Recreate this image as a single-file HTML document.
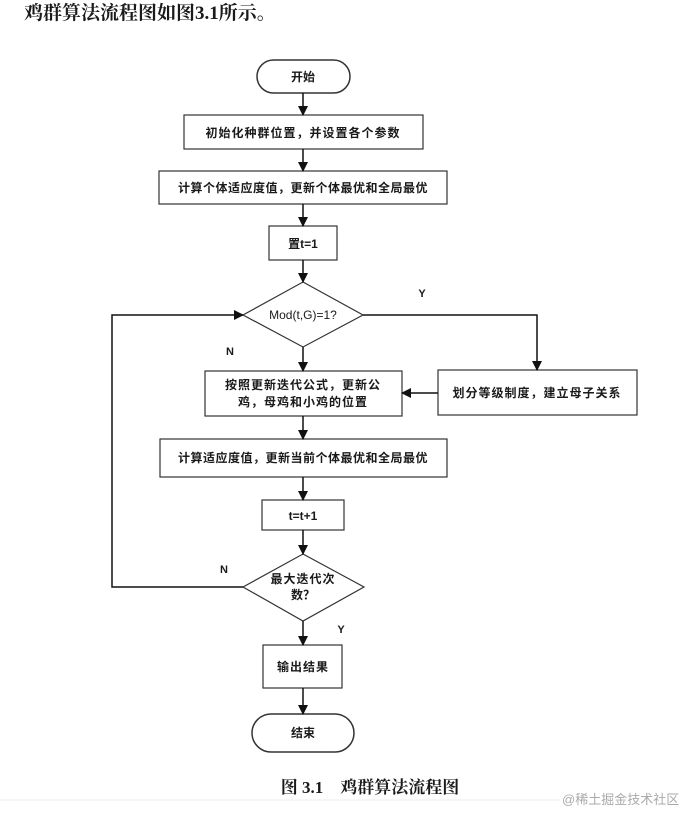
<!DOCTYPE html>
<html><head><meta charset="utf-8"><style>
body{margin:0;width:696px;height:812px;background:#fff;overflow:hidden}
svg text{font-family:"Liberation Sans","Noto Sans CJK SC",sans-serif;fill:#1a1a1a}
</style></head><body>
<svg width="696" height="812" xmlns="http://www.w3.org/2000/svg">
<defs><marker id="a" markerWidth="10" markerHeight="10" refX="9" refY="5" orient="auto" markerUnits="userSpaceOnUse"><path d="M0,0 L10,5 L0,10 Z" fill="#111"/></marker></defs>
<text x="24" y="19" font-size="19" font-weight="bold" style="font-family:'Liberation Serif','Noto Serif CJK SC',serif" fill="#111">鸡群算法流程图如图3.1所示。</text>
<g stroke="#333" stroke-width="1.2" fill="#fff">
<rect x="257" y="60" width="93" height="33" rx="16.5" stroke-width="1.5"/>
<rect x="184" y="115" width="239" height="34"/>
<rect x="159" y="171" width="288" height="33"/>
<rect x="269" y="226" width="68" height="34"/>
<polygon points="303,282 363,315 303,347 243,315"/>
<rect x="205" y="371" width="197" height="45"/>
<rect x="438" y="370" width="199" height="45"/>
<rect x="160" y="439" width="287" height="38"/>
<rect x="262" y="500" width="82" height="30"/>
<polygon points="303,554 364,587 303,621 243,587"/>
<rect x="263" y="645" width="79" height="43"/>
<rect x="252" y="714" width="102" height="38" rx="19" stroke-width="1.5"/>
</g>
<g stroke="#111" stroke-width="1.5" fill="none" marker-end="url(#a)">
<line x1="303" y1="93" x2="303" y2="115"/>
<line x1="303" y1="149" x2="303" y2="171"/>
<line x1="303" y1="204" x2="303" y2="226"/>
<line x1="303" y1="260" x2="303" y2="282"/>
<line x1="303" y1="347" x2="303" y2="371"/>
<polyline points="363,315 537,315 537,370"/>
<line x1="438" y1="393" x2="402" y2="393"/>
<line x1="303" y1="416" x2="303" y2="439"/>
<line x1="303" y1="477" x2="303" y2="500"/>
<line x1="303" y1="530" x2="303" y2="554"/>
<polyline points="243,587 112,587 112,315 243,315"/>
<line x1="303" y1="621" x2="303" y2="645"/>
<line x1="303" y1="688" x2="303" y2="714"/>
</g>
<g font-size="12" text-anchor="middle" font-weight="bold">
<text x="303" y="81">开始</text>
<text x="303" y="137" letter-spacing="1">初始化种群位置，并设置各个参数</text>
<text x="303" y="192" letter-spacing="0.5">计算个体适应度值，更新个体最优和全局最优</text>
<text x="303" y="248">置t=1</text>
<text x="303" y="319" font-weight="normal">Mod(t,G)=1?</text>
<text x="303" y="389" letter-spacing="1">按照更新迭代公式，更新公</text>
<text x="303" y="406" letter-spacing="1">鸡，母鸡和小鸡的位置</text>
<text x="537" y="397" letter-spacing="1">划分等级制度，建立母子关系</text>
<text x="303" y="462" letter-spacing="0.5">计算适应度值，更新当前个体最优和全局最优</text>
<text x="303" y="520">t=t+1</text>
<text x="303" y="583" letter-spacing="1">最大迭代次</text>
<text x="303" y="599">数？</text>
<text x="303" y="671" letter-spacing="1">输出结果</text>
<text x="303" y="737">结束</text>
<text x="422" y="297" font-size="11">Y</text>
<text x="230" y="355" font-size="11">N</text>
<text x="224" y="573" font-size="11">N</text>
<text x="341" y="633" font-size="11">Y</text>
</g>
<text x="370" y="793" font-size="17" text-anchor="middle" font-weight="bold" style="font-family:'Liberation Serif','Noto Serif CJK SC',serif" fill="#111">图 3.1　鸡群算法流程图</text>
<line x1="0" y1="800" x2="560" y2="800" stroke="#eee" stroke-width="1"/>
<text x="562" y="804" font-size="13" style="fill:#aaa">@稀土掘金技术社区</text>
</svg>
</body></html>
